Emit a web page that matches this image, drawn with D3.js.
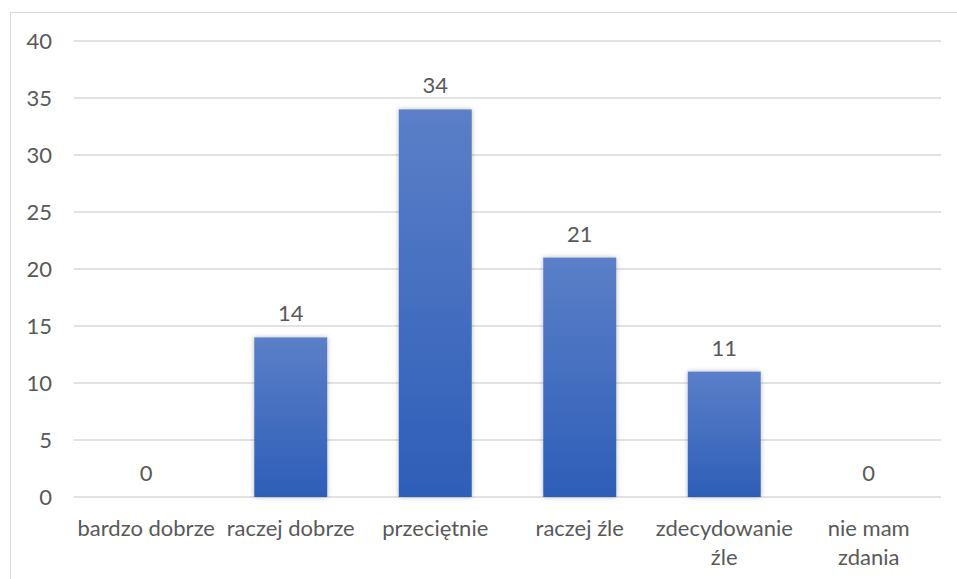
<!DOCTYPE html>
<html>
<head>
<meta charset="utf-8">
<script src="https://cdn.jsdelivr.net/npm/d3@7"></script>
<style>
  body { margin: 0; background: #fff; }
  svg text { font-family: Lato, "Liberation Sans", sans-serif; fill: #595959; }
</style>
</head>
<body>
<script>
const categories = ["bardzo dobrze", "raczej dobrze", "przeciętnie", "raczej źle", "zdecydowanie źle", "nie mam zdania"]
const labelLines = [["bardzo dobrze"], ["raczej dobrze"], ["przeciętnie"], ["raczej źle"], ["zdecydowanie", "źle"], ["nie mam", "zdania"]]
const values = [0, 14, 34, 21, 11, 0]
const yTicks = [0, 5, 10, 15, 20, 25, 30, 35, 40]

const W = 957, H = 579
const plot = {left: 74, right: 941, top: 41, bottom: 497}
const fs = 22

const rows = categories.map((c, i) => ({cat: c, value: values[i], lines: labelLines[i]}))

const svg = d3.select("body").append("svg")
    .attr("width", W).attr("height", H)

// chart frame (only top and left edges visible in the crop)
svg.append("path")
    .attr("d", `M10.5,${H} V12.5 H${W}`)
    .attr("fill", "none").attr("stroke", "#d9d9d9").attr("stroke-width", 1)

const defs = svg.append("defs")
const grad = defs.append("linearGradient").attr("id", "barGrad")
    .attr("x1", 0).attr("y1", 0).attr("x2", 0).attr("y2", 1)
grad.append("stop").attr("offset", "0%").attr("stop-color", "#5b7fc8")
grad.append("stop").attr("offset", "100%").attr("stop-color", "#2e5eb8")

const shadow = defs.append("filter").attr("id", "shadow")
    .attr("x", "-20%").attr("y", "-10%").attr("width", "140%").attr("height", "120%")
shadow.append("feDropShadow").attr("dx", 0).attr("dy", 0).attr("stdDeviation", 2.5)
    .attr("flood-color", "#000").attr("flood-opacity", 0.28)

const x = d3.scaleBand().domain(categories).range([plot.left, plot.right])
    .paddingInner(0.495).paddingOuter(0.2475)
const y = d3.scaleLinear().domain([0, 40]).range([plot.bottom, plot.top])

// gridlines
svg.append("g").selectAll("line").data(yTicks).enter().append("line")
    .attr("x1", plot.left).attr("x2", plot.right)
    .attr("y1", d => y(d)).attr("y2", d => y(d))
    .attr("stroke", "#d9d9d9").attr("stroke-width", 1.5)

// y axis labels
svg.append("g").selectAll("text").data(yTicks).enter().append("text")
    .attr("x", 52).attr("y", d => y(d)).attr("dy", "0.36em")
    .attr("text-anchor", "end").attr("font-size", fs)
    .text(d => d)

// bars
svg.append("g").selectAll("rect").data(rows.filter(d => d.value > 0)).enter().append("rect")
    .attr("x", d => x(d.cat))
    .attr("y", d => y(d.value))
    .attr("width", x.bandwidth())
    .attr("height", d => y(0) - y(d.value))
    .attr("fill", "url(#barGrad)")
    .attr("filter", "url(#shadow)")

// data labels
svg.append("g").selectAll("text").data(rows).enter().append("text")
    .attr("x", d => x(d.cat) + x.bandwidth() / 2)
    .attr("y", d => y(d.value) - 24)
    .attr("text-anchor", "middle").attr("font-size", fs)
    .attr("dy", "0.36em")
    .text(d => d.value)

// category labels
const cat = svg.append("g").selectAll("text").data(rows).enter().append("text")
    .attr("x", d => x(d.cat) + x.bandwidth() / 2)
    .attr("y", 528)
    .attr("text-anchor", "middle").attr("font-size", fs)
cat.selectAll("tspan").data(d => d.lines.map(l => ({l, cx: x(d.cat) + x.bandwidth() / 2}))).enter().append("tspan")
    .attr("x", d => d.cx)
    .attr("dy", (d, j) => j === 0 ? "0.36em" : "1.32em")
    .text(d => d.l)
</script>
</body>
</html>
